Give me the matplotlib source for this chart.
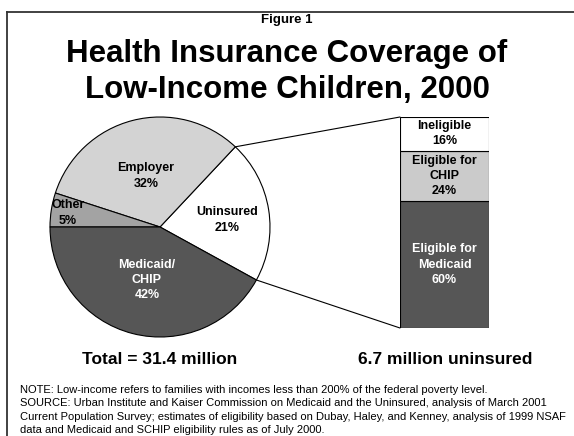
import numpy as np
import matplotlib.pyplot as plt
from matplotlib.patches import ConnectionPatch
from matplotlib.lines import Line2D

plt.rcParams['font.family'] = ['Liberation Sans', 'DejaVu Sans']

# pie data (counterclockwise from the lower uninsured edge)
pie_labels = ['Uninsured\n21%', 'Employer\n32%', 'Other\n5%', 'Medicaid/\nCHIP\n42%']
pie_values = [21, 32, 5, 42]
pie_colors = ['white', '#d3d3d3', '#a3a3a3', '#565656']

# uninsured breakdown (bottom to top)
bar_labels = ['Eligible for\nMedicaid\n60%', 'Eligible for\nCHIP\n24%', 'Ineligible\n16%']
bar_values = [60, 24, 16]
bar_colors = ['#565656', '#cbcbcb', 'white']

W, H = 574, 436
fig = plt.figure(figsize=(W / 100, H / 100), dpi=100)
ax = fig.add_axes([0, 0, 1, 1])

cx, cy, r = 160, H - 227, 110
wedges, _ = ax.pie(pie_values, colors=pie_colors, startangle=-28.8, counterclock=True,
                   center=(cx, cy), radius=r, frame=True,
                   wedgeprops=dict(edgecolor='black', linewidth=0.8))
ax.set_xlim(0, W)
ax.set_ylim(0, H)
ax.set_aspect('auto')
ax.axis('off')

# partial frame
ax.add_line(Line2D([7, W], [H - 12, H - 12], color='#333333', lw=1.3))
ax.add_line(Line2D([7, 7], [0, H - 12], color='#333333', lw=1.3))

label_pos = [(227, H - 220), (146, H - 176), (68, H - 213), (147, H - 280)]
for (x, y), lab, col in zip(label_pos, pie_labels, ['black', 'black', 'black', 'white']):
    ax.text(x, y, lab, ha='center', va='center', fontsize=9, fontweight='bold',
            color=col, linespacing=1.36)

# stacked bar
bx = fig.add_axes([400 / W, (H - 328) / H, 89 / W, 211 / H])
bottom = 0
for val, col, lab in zip(bar_values, bar_colors, bar_labels):
    bx.bar(0, val, bottom=bottom, width=1, color=col, edgecolor='black', linewidth=0.8)
    bx.text(0, bottom + val / 2, lab, ha='center', va='center', fontsize=9,
            fontweight='bold', color='white' if col == '#565656' else 'black',
            linespacing=1.36)
    bottom += val
bx.set_xlim(-0.5, 0.5)
bx.set_ylim(0, 100)
bx.axis('off')

# connector lines from the uninsured slice to the bar
unins = wedges[0]
for theta, ybar in [(unins.theta2, 100), (unins.theta1, 0)]:
    px = cx + r * np.cos(np.radians(theta))
    py = cy + r * np.sin(np.radians(theta))
    con = ConnectionPatch(xyA=(px, py), coordsA=ax.transData,
                          xyB=(-0.5, ybar), coordsB=bx.transData,
                          color='black', lw=0.8)
    fig.add_artist(con)

ax.text(287, H - 20, 'Figure 1', ha='center', va='center', fontsize=9.5, fontweight='bold')
ax.text(287, H - 62, 'Health Insurance Coverage of', ha='center', va='baseline',
        fontsize=22.5, fontweight='bold')
ax.text(287, H - 98, 'Low-Income Children, 2000', ha='center', va='baseline',
        fontsize=22.5, fontweight='bold')

ax.text(160, H - 359, 'Total = 31.4 million', ha='center', va='center',
        fontsize=12.5, fontweight='bold')
ax.text(445, H - 359, '6.7 million uninsured', ha='center', va='center',
        fontsize=12.5, fontweight='bold')

note = ('NOTE: Low-income refers to families with incomes less than 200% of the federal poverty level.\n'
        'SOURCE: Urban Institute and Kaiser Commission on Medicaid and the Uninsured, analysis of March 2001\n'
        'Current Population Survey; estimates of eligibility based on Dubay, Haley, and Kenney, analysis of 1999 NSAF\n'
        'data and Medicaid and SCHIP eligibility rules as of July 2000.')
ax.text(20, H - 410, note, ha='left', va='center', fontsize=8.0, linespacing=1.45)

fig.savefig('out.png', dpi=100)
